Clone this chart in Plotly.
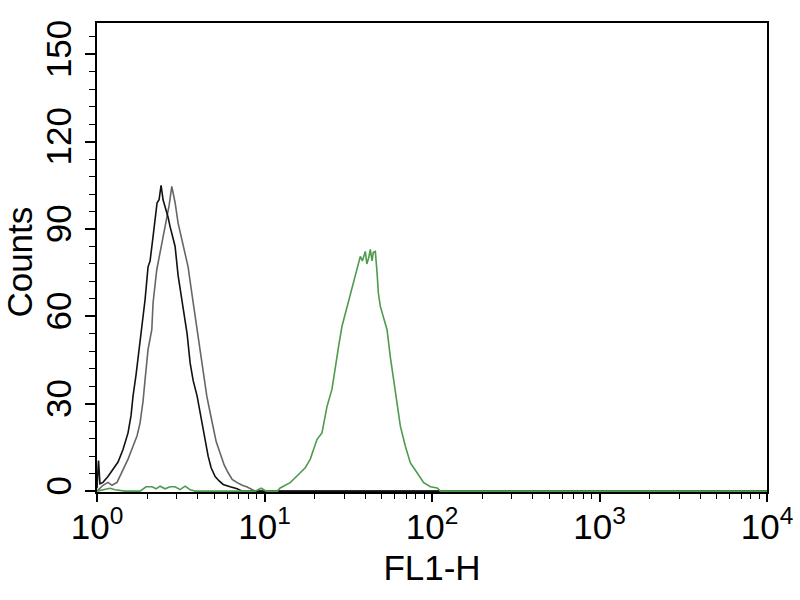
import plotly.graph_objects as go

# FL1-H channel values and counts
black_x = [1.0, 1.021, 1.042, 1.086, 1.163, 1.246, 1.335, 1.430, 1.532, 1.597, 1.641, 1.711,
           1.759, 1.850, 1.936, 2.017, 2.074, 2.161, 2.284, 2.348, 2.413, 2.480, 2.550, 2.657,
           2.731, 2.926, 3.050, 3.266, 3.452, 3.597, 3.749, 3.960, 4.128, 4.302, 4.483, 4.608,
           4.802, 5.074, 5.361, 5.665, 6.237, 6.868, 7.359, 10000]
black_y = [1, 10.5, 2.5, 3, 5, 7.4, 10, 14.3, 20, 26, 32.6, 40,
           46, 55, 65.7, 77, 79, 87.4, 99, 100, 105, 100, 97.7, 94,
           90.8, 84, 74, 62, 54, 44, 38, 32.6, 27, 21, 16, 12,
           8, 5, 3.5, 2.3, 1.5, 0.8, 0, 0]

gray_x = [1.0, 1.042, 1.086, 1.163, 1.229, 1.317, 1.430, 1.532, 1.641, 1.735, 1.808, 1.884,
          1.936, 2.017, 2.124, 2.161, 2.274, 2.436, 2.515, 2.610, 2.694, 2.796, 2.926, 3.050,
          3.266, 3.498, 3.681, 3.853, 4.016, 4.225, 4.524, 4.736, 4.936, 5.145, 5.436, 5.743,
          6.068, 6.411, 6.868, 7.359, 7.882, 8.444, 8.800, 10000]
gray_y = [0, 1, 2, 3, 2, 3, 7.4, 11, 15.4, 19, 23.4, 31,
          38.3, 48.6, 55.4, 64.6, 76, 85, 88, 93, 98, 104.6, 99, 92,
          85, 77, 68, 60, 53, 43, 32.6, 27, 22, 17, 13, 9,
          6.3, 4, 2.9, 2, 1.4, 0.5, 0, 0]

green_x = [1.0, 1.116, 1.196, 1.281, 1.470, 1.808, 1.963, 2.132, 2.253, 2.380, 2.550, 2.731,
           2.926, 3.134, 3.357, 3.597, 3.853, 8.800, 9.557, 10.24, 11.91, 12.41, 14.24, 16.35,
           17.51, 18.76, 20.57, 22.03, 23.61, 25.29, 26.47, 27.69, 29.02, 30.37, 32.53, 34.04,
           35.68, 37.33, 38.37, 39.99, 40.83, 41.85, 42.84, 43.85, 44.65, 45.89, 46.98, 47.83,
           49.16, 51.44, 53.90, 56.41, 59.03, 61.85, 64.73, 69.34, 74.29, 81.46, 89.22, 97.81,
           107.3, 112.3, 10000]
green_y = [0, 0.5, 1, 0.5, 0, 0, 1.5, 1.5, 0.8, 1.7, 0.8, 1.5,
           1.5, 0.5, 1.7, 0.5, 0, 0, 1, 0, 0, 1.1, 2.9, 6.3,
           8, 11, 17.7, 20, 29, 35, 43, 49.7, 56.6, 61, 68, 72.6,
           77, 80.6, 79, 82.3, 78, 80, 83, 79, 82, 82.3, 75, 68,
           63.4, 59, 55.4, 46, 38.3, 30.3, 22.3, 15.4, 9.7, 6.3, 2.9, 1.5,
           1.1, 0, 0]

x_ticks = [1, 10, 100, 1000, 10000]
x_labels = ["10<sup>0</sup>", "10<sup>1</sup>", "10<sup>2</sup>", "10<sup>3</sup>", "10<sup>4</sup>"]
x_minor = [m * d for d in [1, 10, 100, 1000] for m in range(2, 10)]
y_ticks = [0, 30, 60, 90, 120, 150]

fig = go.Figure()
fig.add_trace(go.Scatter(x=gray_x, y=gray_y, mode="lines",
                         line=dict(color="#666666", width=1.6), cliponaxis=False))
fig.add_trace(go.Scatter(x=black_x, y=black_y, mode="lines",
                         line=dict(color="#111111", width=1.6), cliponaxis=False))
fig.add_trace(go.Scatter(x=green_x, y=green_y, mode="lines",
                         line=dict(color="#4e9a4e", width=1.6), cliponaxis=False))

font = "Liberation Sans, Arial, sans-serif"
fig.update_layout(
    width=800, height=600,
    margin=dict(l=97, r=33, t=23, b=108),
    paper_bgcolor="white", plot_bgcolor="white",
    showlegend=False,
    font=dict(family=font, color="black", size=35),
    xaxis=dict(
        type="log", range=[0, 4], automargin=False,
        tickmode="array", tickvals=x_ticks, ticktext=x_labels,
        ticks="outside", ticklen=8, tickwidth=1.5, tickcolor="black",
        minor=dict(tickmode="array", tickvals=x_minor, ticks="outside",
                   ticklen=5, tickwidth=1.2, tickcolor="black"),
        showgrid=False, zeroline=False,
        showline=True, linecolor="black", linewidth=2, mirror=True,
        tickfont=dict(size=35), ticklabelstandoff=-5,
        title=dict(text="FL1-H", font=dict(size=35), standoff=10),
    ),
    yaxis=dict(
        range=[-0.3, 160.7], automargin=False,
        tickmode="array", tickvals=y_ticks, tickangle=-90,
        ticks="outside", ticklen=10, tickwidth=1.5, tickcolor="black",
        minor=dict(dtick=6, ticks="outside", ticklen=6, tickwidth=1.2, tickcolor="black"),
        showgrid=False, zeroline=False,
        showline=True, linecolor="black", linewidth=2, mirror=True,
        tickfont=dict(size=35),
    ),
    annotations=[dict(text="Counts", xref="paper", yref="paper", x=-0.117, y=0.4904,
                      xanchor="center", yanchor="middle", textangle=-90, showarrow=False,
                      font=dict(size=35))],
)

# drop the page's default body margin so the figure sits at the window corner
fig.write_html("out.html", config={"displayModeBar": False},
               post_script="document.body.style.margin='0';")
